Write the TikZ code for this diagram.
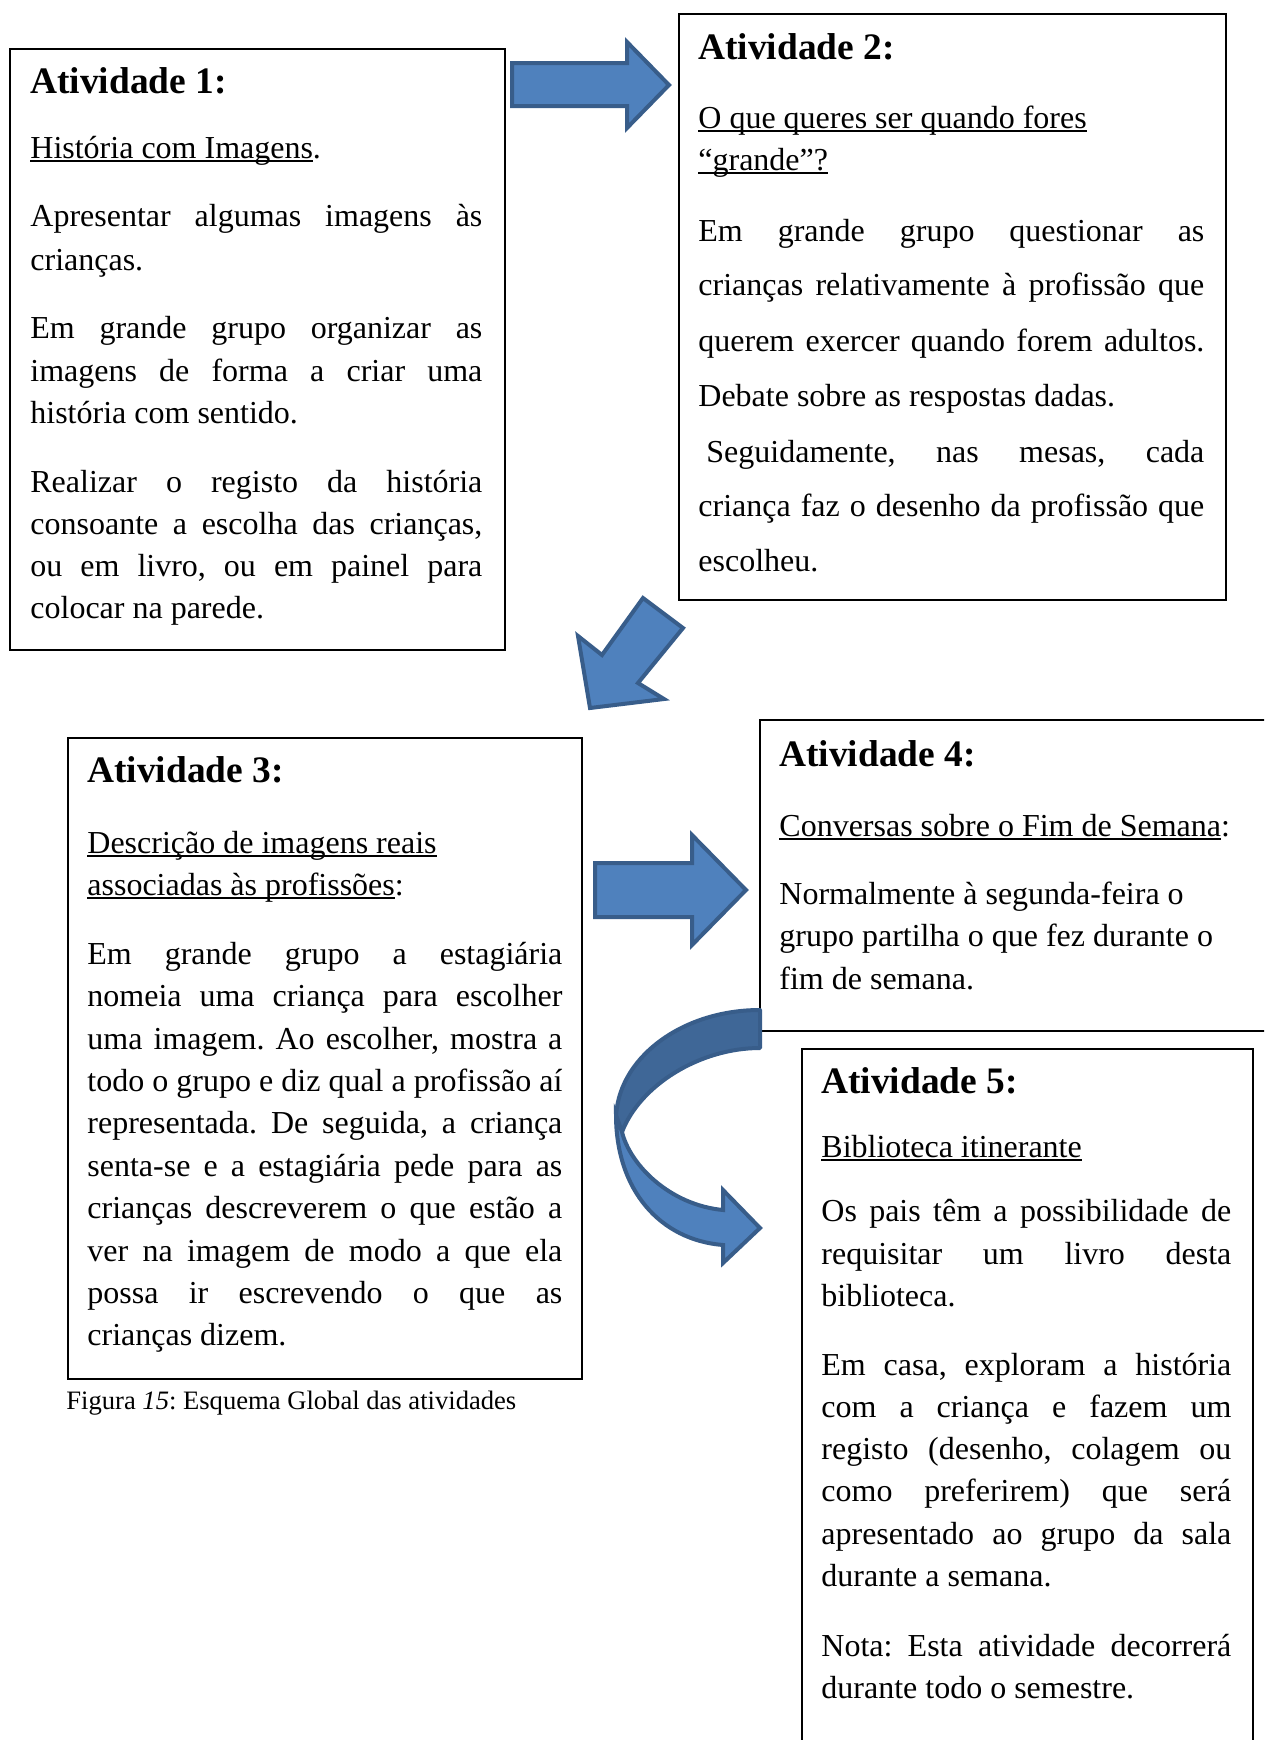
\documentclass[tikz,border=0pt]{standalone}
\usepackage{fontspec}
\setmainfont{Liberation Serif}
\frenchspacing
\definecolor{abl}{HTML}{4F81BD}
\definecolor{abd}{HTML}{3F6797}
\definecolor{aed}{HTML}{385D8A}
\newsavebox\ulbx
\newcommand\ULine[1]{\sbox\ulbx{#1}\rlap{\rule[-2pt]{\wd\ulbx}{0.9pt}}\usebox\ulbx}
\newcommand\JL[4]{\node[txt] (#1) at (#2) {\makebox[#3][s]{#4}};}
\newcommand\NL[3]{\node[txt] (#1) at (#2) {#3};}
\newcommand\TL[3]{\node[ttl] (#1) at (#2) {#3};}
\begin{document}
\begin{tikzpicture}[x=0.5pt,y=-0.5pt,
 box/.style={draw=black,line width=1.1pt,anchor=north west,inner sep=0pt,fill=white},
 txt/.style={anchor=base west,inner sep=0pt,font=\fontsize{16}{19}\selectfont\frenchspacing},
 ttl/.style={anchor=base west,inner sep=0pt,font=\fontsize{18.7}{22}\selectfont\bfseries},
 figcap/.style={anchor=base west,inner sep=0pt,font=\fontsize{13.3}{16}\selectfont\frenchspacing},
 blk/.style={fill=abl,draw=aed,line width=2pt,line join=miter},
 blkd/.style={fill=abd,draw=aed,line width=2pt,line join=round}]
\useasboundingbox (0,0) rectangle (1264,1740);
\fill[white] (0,0) rectangle (1264,1740);
\path[clip] (0,0) rectangle (1264,1740);

% boxes
\node[box,minimum width=247.5pt,minimum height=300.5pt] (box1) at (9,48) {};
\node[box,minimum width=273.5pt,minimum height=293pt] (box2) at (678,13) {};
\node[box,minimum width=257pt,minimum height=320.5pt] (box3) at (67,737) {};
\node[box,minimum width=270pt,minimum height=155.5pt] (box4) at (759,719) {};
\node[box,minimum width=225.5pt,minimum height=360pt] (box5) at (801,1048) {};

% box 1
\TL{t1}{30,93}{Atividade 1:}
\NL{h1}{30,158}{\ULine{História com Imagens}.}
\JL{a1}{30,226}{226pt}{Apresentar algumas imagens às}
\NL{a2}{30,270}{crianças.}
\JL{b1}{30,338}{226pt}{Em grande grupo organizar as}
\JL{b2}{30,381}{226pt}{imagens de forma a criar uma}
\NL{b3}{30,423}{história com sentido.}
\JL{c1}{30,492}{226pt}{Realizar o registo da história}
\JL{c2}{30,534}{226pt}{consoante a escolha das crianças,}
\JL{c3}{30,576}{226pt}{ou em livro, ou em painel para}
\NL{c4}{30,618}{colocar na parede.}

% box 2
\TL{t2}{698,59}{Atividade 2:}
\NL{h2a}{698,128}{\ULine{O que queres ser quando fores}}
\NL{h2b}{698,170}{\ULine{“grande”?}}
\JL{d1}{698,241}{253pt}{Em grande grupo questionar as}
\JL{d2}{698,295}{253pt}{crianças relativamente à profissão que}
\JL{d3}{698,351}{253pt}{querem exercer quando forem adultos.}
\NL{d4}{698,406}{Debate sobre as respostas dadas.}
\JL{d5}{706,462}{249pt}{Seguidamente, nas mesas, cada}
\JL{d6}{698,516}{253pt}{criança faz o desenho da profissão que}
\NL{d7}{698,571}{escolheu.}

% box 3
\TL{t3}{87,782}{Atividade 3:}
\NL{h3a}{87,853}{\ULine{Descrição de imagens reais}}
\NL{h3b}{87,895}{\ULine{associadas às profissões}:}
\JL{e1}{87,964}{237.5pt}{Em grande grupo a estagiária}
\JL{e2}{87,1006}{237.5pt}{nomeia uma criança para escolher}
\JL{e3}{87,1049}{237.5pt}{uma imagem. Ao escolher, mostra a}
\JL{e4}{87,1091}{237.5pt}{todo o grupo e diz qual a profissão aí}
\JL{e5}{87,1133}{237.5pt}{representada. De seguida, a criança}
\JL{e6}{87,1176}{237.5pt}{senta-se e a estagiária pede para as}
\JL{e7}{87,1218}{237.5pt}{crianças descreverem o que estão a}
\JL{e8}{87,1261}{237.5pt}{ver na imagem de modo a que ela}
\JL{e9}{87,1303}{237.5pt}{possa ir escrevendo o que as}
\NL{e10}{87,1345}{crianças dizem.}
\node[figcap] (caption) at (66,1409) {Figura \textit{15}: Esquema Global das atividades};

% box 4
\TL{t4}{779,766}{Atividade 4:}
\NL{h4}{779,836}{\ULine{Conversas sobre o Fim de Semana}:}
\NL{f1}{779,904}{Normalmente à segunda-feira o}
\NL{f2}{779,946}{grupo partilha o que fez durante o}
\NL{f3}{779,989}{fim de semana.}

% box 5
\TL{t5}{821,1093}{Atividade 5:}
\NL{h5}{821,1157}{\ULine{Biblioteca itinerante}}
\JL{g1}{821,1221}{205pt}{Os pais têm a possibilidade de}
\JL{g2}{821,1264}{205pt}{requisitar um livro desta}
\NL{g3}{821,1306}{biblioteca.}
\JL{g4}{821,1375}{205pt}{Em casa, exploram a história}
\JL{g5}{821,1417}{205pt}{com a criança e fazem um}
\JL{g6}{821,1459}{205pt}{registo (desenho, colagem ou}
\JL{g7}{821,1501}{205pt}{como preferirem) que será}
\JL{g8}{821,1544}{205pt}{apresentado ao grupo da sala}
\NL{g9}{821,1586}{durante a semana.}
\JL{g10}{821,1656}{205pt}{Nota: Esta atividade decorrerá}
\NL{g11}{821,1698}{durante todo o semestre.}

% block arrows
\path[blk] (512,63) -- (627,63) -- (627,42) -- (669,85) -- (627,128) -- (627,106) -- (512,106) -- cycle;
\path[blk] (643,598) -- (683,628) -- (638,683) -- (664,699) -- (590,708) -- (578,636) -- (602,655) -- cycle;
\path[blk] (595,863) -- (692,863) -- (692,835) -- (746,890) -- (692,945) -- (692,917) -- (595,917) -- cycle;
% curved arrow
\path[blkd] (760,1010) .. controls (680,1010) and (616,1060) .. (616,1120) -- (622,1132) .. controls (640,1085) and (700,1048) .. (760,1048) -- cycle;
\path[blk] (616,1115) .. controls (616,1190) and (660,1240) .. (723,1245) -- (723,1263) -- (760,1228) -- (723,1190) -- (723,1210) .. controls (670,1205) and (630,1165) .. (622,1132) -- cycle;
\end{tikzpicture}
\end{document}
